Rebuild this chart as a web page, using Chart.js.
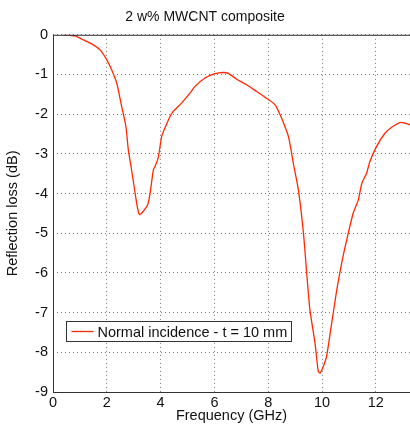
<!DOCTYPE html>
<html>
<head>
<meta charset="utf-8">
<script src="https://cdn.jsdelivr.net/npm/chart.js@4"></script>
<style>
  html, body { margin: 0; padding: 0; background: #fff; }
  #wrap { width: 410px; height: 425px; }
</style>
</head>
<body>
<div id="wrap"><canvas id="chart" width="410" height="425"></canvas></div>
<script>
// values
const freq = [0.38, 0.6, 0.82, 1.13, 1.44, 1.75, 2.0, 2.18, 2.37, 2.55, 2.71, 2.8, 2.92, 3.05, 3.13, 3.21, 3.3, 3.52, 3.61, 3.73, 3.79, 3.91, 4.04, 4.16, 4.35, 4.47, 4.78, 5.09, 5.28, 5.65, 6.02, 6.33, 6.52, 6.83, 7.2, 7.57, 7.94, 8.25, 8.5, 8.62, 8.75, 8.87, 8.93, 9.12, 9.31, 9.43, 9.55, 9.74, 9.86, 9.93, 10.05, 10.17, 10.36, 10.55, 10.73, 10.92, 11.16, 11.35, 11.48, 11.66, 11.78, 12.03, 12.34, 12.59, 12.9, 13.15, 13.27];
const loss = [0, -0.01, -0.03, -0.13, -0.23, -0.38, -0.63, -0.88, -1.22, -1.8, -2.31, -2.9, -3.4, -3.98, -4.32, -4.53, -4.49, -4.28, -3.99, -3.4, -3.32, -3.1, -2.56, -2.35, -2.06, -1.93, -1.72, -1.47, -1.3, -1.09, -0.98, -0.95, -0.97, -1.12, -1.26, -1.43, -1.6, -1.76, -2.1, -2.31, -2.56, -2.98, -3.23, -3.9, -5.0, -6.0, -6.93, -7.77, -8.48, -8.52, -8.35, -8.1, -7.26, -6.42, -5.75, -5.16, -4.49, -4.16, -3.74, -3.48, -3.19, -2.81, -2.48, -2.33, -2.21, -2.24, -2.27];
const seriesName = 'Normal incidence - t = 10 mm';
const xTicks = [0, 2, 4, 6, 8, 10, 12];

const lineColor = 'rgb(255, 40, 0)';
const fontFamily = '"Liberation Sans", Arial, sans-serif';

// box around the plot area plus the legend box inside it
const framePlugin = {
    id: 'frame',
    afterDatasetsDraw(chart) {
        const ctx = chart.ctx;
        const a = chart.chartArea;
        ctx.save();
        ctx.strokeStyle = '#333';
        ctx.lineWidth = 1;
        ctx.strokeRect(a.left + 0.5, a.top + 0.5, a.right - a.left, a.bottom - a.top);

        // legend
        const bx = 66.5, by = 321.5, bw = 225, bh = 20;
        ctx.fillStyle = '#fff';
        ctx.fillRect(bx, by, bw, bh);
        ctx.strokeStyle = '#333';
        ctx.strokeRect(bx, by, bw, bh);
        ctx.strokeStyle = lineColor;
        ctx.lineWidth = 1.3;
        ctx.beginPath();
        ctx.moveTo(bx + 5, by + bh / 2);
        ctx.lineTo(bx + 27, by + bh / 2);
        ctx.stroke();
        ctx.fillStyle = '#111';
        ctx.font = '14.5px ' + fontFamily;
        ctx.textBaseline = 'middle';
        ctx.fillText(seriesName, bx + 31, by + bh / 2 + 1);
        ctx.restore();
    }
};

const ctx = document.getElementById('chart').getContext('2d');
new Chart(ctx, {
    type: 'line',
    data: {
        datasets: [{
            label: seriesName,
            data: freq.map((f, i) => ({ x: f, y: loss[i] })),
            borderColor: lineColor,
            borderWidth: 1.3,
            pointRadius: 0,
            tension: 0.2,
            fill: false
        }]
    },
    options: {
        responsive: false,
        animation: false,
        layout: { padding: { left: 0, right: 0, top: 0, bottom: 0 } },
        plugins: {
            legend: { display: false },
            tooltip: { enabled: false },
            title: {
                display: true,
                text: '2 w% MWCNT composite',
                color: '#111',
                font: { family: fontFamily, size: 14, weight: 'normal' },
                padding: { top: 9, bottom: 9 }
            }
        },
        scales: {
            x: {
                type: 'linear',
                min: 0,
                max: 13.27,
                afterBuildTicks(scale) {
                    scale.ticks = xTicks.map(v => ({ value: v }));
                },
                afterFit(scale) { scale.height = 33; },
                grid: { color: '#777', lineWidth: 1, drawTicks: false },
                border: { display: false, dash: [1, 3] },
                ticks: {
                    color: '#111',
                    padding: 2,
                    maxRotation: 0,
                    font: { family: fontFamily, size: 14.5 }
                },
                title: {
                    display: true,
                    text: 'Frequency (GHz)',
                    color: '#111',
                    padding: { top: 0, bottom: 0 },
                    font: { family: fontFamily, size: 14.5 }
                }
            },
            y: {
                min: -9,
                max: 0,
                afterFit(scale) { scale.width = 53; },
                grid: { color: '#777', lineWidth: 1, drawTicks: false },
                border: { display: false, dash: [1, 3] },
                ticks: {
                    stepSize: 1,
                    color: '#111',
                    padding: 5,
                    font: { family: fontFamily, size: 14.5 }
                },
                title: {
                    display: true,
                    text: 'Reflection loss (dB)',
                    color: '#111',
                    padding: { top: 4, bottom: 0 },
                    font: { family: fontFamily, size: 14.5 }
                }
            }
        }
    },
    plugins: [framePlugin]
});
</script>
</body>
</html>
